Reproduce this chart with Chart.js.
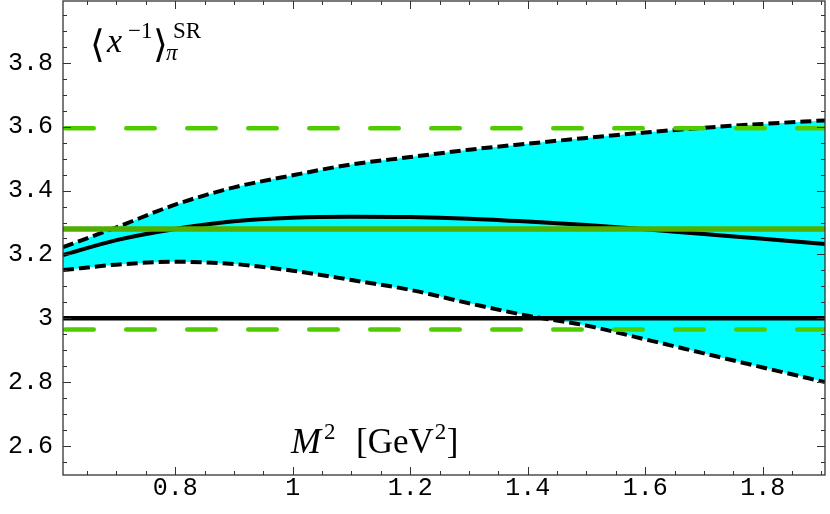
<!DOCTYPE html>
<html>
<head>
<meta charset="utf-8">
<script src="https://cdn.jsdelivr.net/npm/chart.js@4.4.0/dist/chart.umd.min.js"></script>
<style>
  html, body { margin: 0; padding: 0; background: #fff; }
  #wrap { width: 830px; height: 514px; }
</style>
</head>
<body>
<div id="wrap"><canvas id="chart" width="830" height="514"></canvas></div>
<script>
// M^2 grid (GeV^2)
const mSq = [0.609, 0.7, 0.8, 0.9, 1.0, 1.1, 1.2, 1.3, 1.4, 1.5, 1.6, 1.7, 1.8, 1.906];
// sum rule result: central curve and error band
const central = [3.198, 3.245, 3.280, 3.304, 3.315, 3.318, 3.317, 3.312, 3.303, 3.292, 3.279, 3.264, 3.249, 3.233];
const upper = [3.223, 3.285, 3.356, 3.410, 3.448, 3.482, 3.505, 3.528, 3.547, 3.565, 3.582, 3.597, 3.609, 3.620];
const lower = [3.151, 3.168, 3.177, 3.170, 3.149, 3.120, 3.089, 3.047, 3.008, 2.977, 2.934, 2.890, 2.846, 2.800];
// horizontal reference values
const asymptotic = 3.0;
const srMean = 3.28;
const srHigh = 3.595;
const srLow = 2.965;

const xTicks = [0.8, 1.0, 1.2, 1.4, 1.6, 1.8];
const yTicks = [2.6, 2.8, 3.0, 3.2, 3.4, 3.6, 3.8];
const xRange = [0.609, 1.906];
const yRange = [2.509, 3.994];

const pts = ys => mSq.map((m, i) => ({ x: m, y: ys[i] }));
const flat = v => [{ x: xRange[0], y: v }, { x: xRange[1], y: v }];

const GREEN = '#4fcc00';
const GREEN_DARK = '#4fae00';

// frame with inward ticks on all four sides, and the math labels
const framePlugin = {
  id: 'frame',
  afterDraw(chart) {
    const { ctx, chartArea: a, scales } = chart;
    const xs = scales.x, ys = scales.y;
    ctx.save();
    ctx.strokeStyle = '#333';
    ctx.lineWidth = 1.3;
    ctx.strokeRect(a.left, a.top, a.right - a.left, a.bottom - a.top);
    ctx.lineWidth = 1;
    for (let i = 0; i * 0.05 + 0.65 <= xRange[1]; i++) {
      const v = +(0.65 + i * 0.05).toFixed(2);
      const major = xTicks.some(t => Math.abs(t - v) < 1e-6);
      const len = major ? 8 : 4;
      const px = Math.round(xs.getPixelForValue(v)) + 0.5;
      ctx.beginPath();
      ctx.moveTo(px, a.bottom); ctx.lineTo(px, a.bottom - len);
      ctx.moveTo(px, a.top); ctx.lineTo(px, a.top + len);
      ctx.stroke();
    }
    for (let i = 0; i * 0.05 + 2.55 <= yRange[1]; i++) {
      const v = +(2.55 + i * 0.05).toFixed(2);
      const major = yTicks.some(t => Math.abs(t - v) < 1e-6);
      const len = major ? 8 : 4;
      const py = Math.round(ys.getPixelForValue(v)) + 0.5;
      ctx.beginPath();
      ctx.moveTo(a.left, py); ctx.lineTo(a.left + len, py);
      ctx.moveTo(a.right, py); ctx.lineTo(a.right - len, py);
      ctx.stroke();
    }

    ctx.fillStyle = '#000';
    ctx.textBaseline = 'alphabetic';
    ctx.textAlign = 'left';
    // <x^{-1}>_pi^{SR}
    ctx.font = '38px "DejaVu Serif"';
    ctx.fillText('\u27E8', 90, 57);
    ctx.font = 'italic 34px "Liberation Serif"';
    ctx.fillText('x', 107, 52);
    ctx.font = '23px "Liberation Serif"';
    ctx.fillText('\u22121', 128, 38);
    ctx.font = '38px "DejaVu Serif"';
    ctx.fillText('\u27E9', 153, 57);
    ctx.font = '23px "Liberation Serif"';
    ctx.fillText('SR', 173, 38);
    ctx.font = 'italic 23px "Liberation Serif"';
    ctx.fillText('\u03C0', 166, 60);
    // M^2 [GeV^2]
    ctx.font = 'italic 36px "Liberation Serif"';
    ctx.fillText('M', 291, 453);
    ctx.font = '23px "Liberation Serif"';
    ctx.fillText('2', 324, 439);
    ctx.font = '35px "Liberation Serif"';
    ctx.fillText('[GeV', 356, 453);
    const w = ctx.measureText('[GeV').width;
    ctx.font = '23px "Liberation Serif"';
    ctx.fillText('2', 356 + w + 1, 439);
    ctx.font = '35px "Liberation Serif"';
    ctx.fillText(']', 356 + w + 13, 453);
    ctx.restore();
  }
};

const line = (label, data, color, width, dash, extra) => Object.assign({
  label, data, borderColor: color, borderWidth: width, borderDash: dash || [],
  pointRadius: 0, fill: false, cubicInterpolationMode: 'monotone'
}, extra || {});

const noPad = s => { s.paddingTop = 0; s.paddingBottom = 0; s.paddingLeft = 0; s.paddingRight = 0; };

new Chart(document.getElementById('chart'), {
  type: 'line',
  data: {
    datasets: [
      line('SR mean', flat(srMean), GREEN_DARK, 5.5),
      line('SR high', flat(srHigh), GREEN, 4.5, [28.5, 32.5], { borderCapStyle: 'round', borderDashOffset: -2.25 }),
      line('SR low', flat(srLow), GREEN, 4.5, [28.5, 32.5], { borderCapStyle: 'round', borderDashOffset: -2.25 }),
      line('central', pts(central), '#000', 4),
      line('upper', pts(upper), '#000', 4, [11, 5], { fill: { target: 5 }, backgroundColor: '#00ffff' }),
      line('lower', pts(lower), '#000', 4, [11, 5]),
      line('asymptotic', flat(asymptotic), '#000', 4.5)
    ]
  },
  options: {
    responsive: false,
    animation: false,
    layout: { padding: { top: 1, right: 5, left: 0, bottom: 0 } },
    plugins: {
      legend: { display: false },
      tooltip: { enabled: false },
      filler: { drawTime: 'beforeDatasetsDraw' }
    },
    scales: {
      x: {
        type: 'linear', min: xRange[0], max: xRange[1],
        grid: { display: false, drawTicks: false },
        border: { display: false },
        afterBuildTicks: s => { s.ticks = xTicks.map(v => ({ value: v })); },
        afterFit: s => { s.height = 39; noPad(s); },
        ticks: {
          padding: -2, color: '#000',
          font: { family: '"Liberation Mono"', size: 25 },
          maxRotation: 0,
          callback: v => String(Number(v.toFixed(1)))
        }
      },
      y: {
        type: 'linear', min: yRange[0], max: yRange[1],
        grid: { display: false, drawTicks: false },
        border: { display: false },
        afterBuildTicks: s => { s.ticks = yTicks.map(v => ({ value: v })); },
        afterFit: s => { s.width = 63; noPad(s); },
        ticks: {
          padding: 10, color: '#000',
          font: { family: '"Liberation Mono"', size: 25 },
          callback: v => String(Number(v.toFixed(1)))
        }
      }
    }
  },
  plugins: [framePlugin]
});
</script>
</body>
</html>
